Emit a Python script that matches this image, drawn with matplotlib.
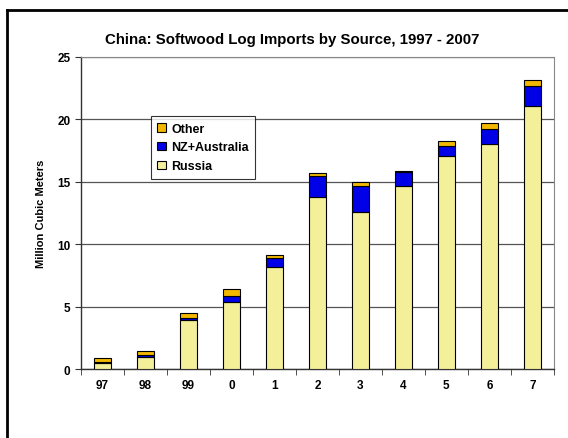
import matplotlib.pyplot as plt
import numpy as np

years = ["97", "98", "99", "0", "1", "2", "3", "4", "5", "6", "7"]
russia = [0.45, 1.0, 3.9, 5.37, 8.2, 13.8, 12.6, 14.66, 17.09, 18.03, 21.07]
nz_aus = [0.11, 0.15, 0.2, 0.48, 0.72, 1.67, 2.04, 1.1, 0.78, 1.23, 1.61]
other = [0.32, 0.32, 0.4, 0.59, 0.21, 0.26, 0.32, 0.14, 0.4, 0.42, 0.48]

plt.rcParams['font.family'] = ['Liberation Sans', 'DejaVu Sans']

fig = plt.figure(figsize=(5.68, 4.39), dpi=100)
ax = fig.add_axes([0.1426, 0.157, 0.8324, 0.711])

x = np.arange(len(years))
w = 0.4
russia = np.array(russia)
nz_aus = np.array(nz_aus)
other = np.array(other)

b1 = ax.bar(x, russia, w, color="#F4F09A", edgecolor="black", linewidth=0.8, label="Russia", zorder=3)
b2 = ax.bar(x, nz_aus, w, bottom=russia, color="#0000E6", edgecolor="black", linewidth=0.8,
            label="NZ+Australia", zorder=3)
b3 = ax.bar(x, other, w, bottom=russia + nz_aus, color="#F2B800", edgecolor="black", linewidth=0.8,
            label="Other", zorder=3)

ax.set_xlim(-0.5, len(years) - 0.5)
ax.set_ylim(0, 25)
ax.set_yticks([0, 5, 10, 15, 20, 25])
ax.set_yticklabels(["0", "5", "10", "15", "20", "25"], fontsize=8.5, fontweight="bold")
ax.set_xticks(x)
ax.set_xticklabels(years, fontsize=8.5, fontweight="bold")
ax.tick_params(axis="x", length=0, pad=7)
ax.set_xticks(np.arange(-0.5, len(years)), minor=True)
ax.tick_params(axis="x", which="minor", length=4, direction="out", color="#333333")
ax.tick_params(axis="y", length=4, color="#333333")

ax.yaxis.grid(True, color="#555555", linewidth=0.9, zorder=0)
ax.set_axisbelow(True)
for s in ["top", "right"]:
    ax.spines[s].set_color("#888888")
for s in ["left", "bottom"]:
    ax.spines[s].set_color("#333333")
    ax.spines[s].set_linewidth(1.0)

ax.set_ylabel("Million Cubic Meters", fontsize=8, fontweight="bold", labelpad=8)
fig.text(292 / 568, 1 - 40 / 439, "China: Softwood Log Imports by Source, 1997 - 2007",
         fontsize=10.8, fontweight="bold", ha="center", va="center")

leg = ax.legend(handles=[b3, b2, b1], loc="upper left", bbox_to_anchor=(0.135, 0.83),
                prop={"weight": "bold", "size": 9}, frameon=True, fancybox=False,
                edgecolor="black", handlelength=0.7, handleheight=0.7, handletextpad=0.4,
                labelspacing=0.55, borderpad=0.5)
leg.get_frame().set_linewidth(0.8)

# outer frame of the picture
fig.add_artist(plt.Line2D([0.0123, 0.0123], [-0.01, 0.975], color="black", linewidth=2,
                          transform=fig.transFigure))
fig.add_artist(plt.Line2D([0.0123, 1.01], [0.975, 0.975], color="black", linewidth=2,
                          transform=fig.transFigure))

fig.savefig("out.png", dpi=100)
